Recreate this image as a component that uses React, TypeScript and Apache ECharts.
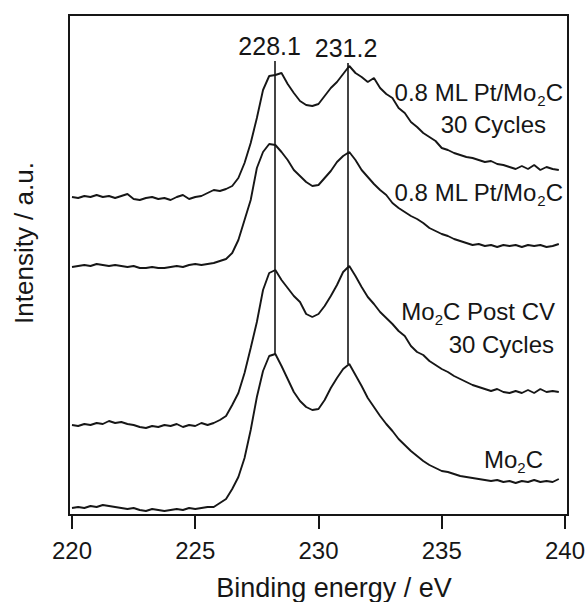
import React, { useEffect, useRef } from "react";
import * as echarts from "echarts";

// Binding energy grid (eV)
const energies = [
  220, 220.25, 220.5, 220.75, 221, 221.25, 221.5, 221.75, 222, 222.25,
  222.5, 222.75, 223, 223.25, 223.5, 223.75, 224, 224.25, 224.5, 224.75,
  225, 225.25, 225.5, 225.75, 226, 226.25, 226.5, 226.75, 227, 227.25,
  227.5, 227.75, 228, 228.25, 228.5, 228.75, 229, 229.25, 229.5, 229.75,
  230, 230.25, 230.5, 230.75, 231, 231.25, 231.5, 231.75, 232, 232.25,
  232.5, 232.75, 233, 233.25, 233.5, 233.75, 234, 234.25, 234.5, 234.75,
  235, 235.25, 235.5, 235.75, 236, 236.25, 236.5, 236.75, 237, 237.25,
  237.5, 237.75, 238, 238.25, 238.5, 238.75, 239, 239.25, 239.5, 239.75,
];

// Offset intensities (a.u.)
const ptMo2C30Cycles = [
  318, 317, 319, 318, 320, 318, 319, 317, 319, 321,
  316, 315, 317, 318, 316, 317, 315, 318, 320, 316,
  318, 319, 322, 325, 324, 326, 329, 337, 352, 372,
  397, 425, 439, 440, 442, 431, 422, 414, 410, 409,
  411, 419, 427, 433, 441, 449, 442, 438, 433, 437,
  427, 421, 417, 407, 402, 393, 388, 382, 378, 374,
  367, 365, 362, 360, 358, 357, 355, 353, 354, 351,
  350, 348, 346, 349, 346, 350, 345, 348, 346, 345,
];

const ptMo2C = [
  248, 249, 250, 249, 251, 250, 249, 250, 249, 248,
  249, 247, 247, 248, 247, 247, 248, 249, 248, 250,
  251, 250, 251, 252, 254, 256, 262, 275, 295, 315,
  347, 363, 371, 370, 363, 355, 345, 339, 333, 329,
  330, 337, 344, 353, 359, 363, 355, 345, 338, 331,
  325, 320, 312, 307, 303, 299, 296, 292, 287, 284,
  281, 279, 276, 274, 272, 270, 271, 269, 270, 268,
  270, 269, 270, 268, 270, 269, 270, 268, 269, 271,
];

const mo2CPostCV = [
  90, 89, 91, 90, 92, 91, 94, 92, 93, 91,
  90, 88, 87, 89, 88, 90, 89, 91, 88, 90,
  89, 92, 90, 92, 95, 99, 110, 122, 142, 167,
  193, 225, 242, 245, 235, 227, 219, 213, 201, 198,
  201, 209, 219, 230, 243, 249, 239, 228, 218, 211,
  203, 197, 191, 184, 179, 169, 163, 160, 154, 150,
  146, 143, 139, 136, 133, 130, 128, 126, 124, 126,
  123, 122, 124, 122, 125, 122, 126, 123, 124, 123,
];

const mo2C = [
  7, 8, 7, 9, 8, 10, 9, 8, 7, 6,
  7, 5, 4, 6, 5, 4, 5, 6, 5, 7,
  6, 7, 8, 8, 12, 16, 26, 38, 57, 85,
  118, 144, 159, 161, 149, 136, 123, 114, 108, 105,
  106, 115, 127, 137, 146, 151, 140, 129, 117, 108,
  99, 91, 84, 76, 70, 64, 59, 54, 50, 47,
  44, 43, 41, 39, 38, 37, 36, 35, 34, 35,
  33, 34, 32, 34, 33, 35, 33, 34, 33, 36,
];

// Peak marker lines
const peakLabels = ["228.1", "231.2"];
const peakPositions = [228.22, 231.2];
const peakTops = [454, 452];
const peakBottoms = [161, 151];

const xTicks = [220, 225, 230, 235, 240];

const INK = "#161616";
const FONT = "'Liberation Sans', Arial, Helvetica, sans-serif";
const MAIN_SIZE = 24;
const SUB_SIZE = 15;
const SUB_DROP = 8.5;

function pairs(ys: number[]) {
  return energies.map((e, i) => [e, ys[i]]);
}

type Part = { t: string; sub?: boolean };

function measure(ctx: CanvasRenderingContext2D | null, text: string, size: number) {
  if (!ctx) return text.length * size * 0.55;
  ctx.font = `${size}px ${FONT}`;
  return ctx.measureText(text).width;
}

function labelParts(ctx: CanvasRenderingContext2D | null, parts: Part[], rightX: number, y: number) {
  const widths = parts.map((p) => measure(ctx, p.t, p.sub ? SUB_SIZE : MAIN_SIZE));
  const total = widths.reduce((a, b) => a + b, 0);
  let x = rightX - total;
  return parts.map((p, i) => {
    const el = {
      type: "text",
      x,
      y: p.sub ? y + SUB_DROP : y,
      z: 20,
      style: {
        text: p.t,
        fontSize: p.sub ? SUB_SIZE : MAIN_SIZE,
        fontFamily: FONT,
        fill: INK,
        align: "left",
        verticalAlign: "middle",
      },
    };
    x += widths[i];
    return el;
  });
}

export default function App() {
  const ref = useRef<HTMLDivElement>(null);

  useEffect(() => {
    if (!ref.current) return;
    const chart = echarts.init(ref.current, undefined, { renderer: "svg" });
    const ctx = document.createElement("canvas").getContext("2d");

    const curveStyle = { color: INK, width: 1.9 };

    const option: any = {
      animation: false,
      backgroundColor: "#ffffff",
      grid: { left: 72, right: 22, top: 15, bottom: 87 },
      xAxis: {
        type: "value",
        min: xTicks[0],
        max: xTicks[xTicks.length - 1],
        interval: 5,
        axisLine: { show: false },
        axisTick: { show: true, inside: false, length: 14, lineStyle: { color: INK, width: 2 } },
        axisLabel: {
          margin: 23,
          fontSize: 24,
          color: INK,
          fontFamily: FONT,
          formatter: (v: number) => String(v),
        },
        splitLine: { show: false },
      },
      yAxis: {
        type: "value",
        min: 0,
        max: 500,
        show: false,
      },
      series: [
        {
          name: "0.8 ML Pt/Mo2C 30 Cycles",
          type: "line",
          data: pairs(ptMo2C30Cycles),
          showSymbol: false,
          lineStyle: curveStyle,
          itemStyle: { color: INK },
        },
        {
          name: "0.8 ML Pt/Mo2C",
          type: "line",
          data: pairs(ptMo2C),
          showSymbol: false,
          lineStyle: curveStyle,
          itemStyle: { color: INK },
        },
        {
          name: "Mo2C Post CV 30 Cycles",
          type: "line",
          data: pairs(mo2CPostCV),
          showSymbol: false,
          lineStyle: curveStyle,
          itemStyle: { color: INK },
        },
        {
          name: "Mo2C",
          type: "line",
          data: pairs(mo2C),
          showSymbol: false,
          lineStyle: curveStyle,
          itemStyle: { color: INK },
          markLine: {
            silent: true,
            symbol: ["none", "none"],
            lineStyle: { color: INK, width: 1.6, type: "solid" },
            label: {
              show: true,
              position: "end",
              fontSize: 25,
              color: INK,
              fontFamily: FONT,
              distance: 3,
            },
            data: peakPositions.map((p, i) => [
              { coord: [p, peakBottoms[i]] },
              {
                coord: [p, peakTops[i]],
                label: { formatter: peakLabels[i], offset: [i === 0 ? -5 : -2, 0] },
              },
            ]),
          },
        },
      ],
      graphic: [
        {
          type: "rect",
          z: 30,
          shape: { x: 69, y: 15, width: 499, height: 500 },
          style: { fill: "none", stroke: INK, lineWidth: 2 },
        },
        {
          type: "text",
          x: 334,
          y: 588,
          style: {
            text: "Binding energy / eV",
            fontSize: 27,
            fontFamily: FONT,
            fill: INK,
            align: "center",
            verticalAlign: "middle",
          },
        },
        {
          type: "text",
          x: 24,
          y: 243,
          rotation: Math.PI / 2,
          style: {
            text: "Intensity / a.u.",
            fontSize: 26,
            fontFamily: FONT,
            fill: INK,
            align: "center",
            verticalAlign: "middle",
          },
        },
        ...labelParts(ctx, [{ t: "0.8 ML Pt/Mo" }, { t: "2", sub: true }, { t: "C" }], 563, 92),
        ...labelParts(ctx, [{ t: "30 Cycles" }], 546, 124),
        ...labelParts(ctx, [{ t: "0.8 ML Pt/Mo" }, { t: "2", sub: true }, { t: "C" }], 563, 192),
        ...labelParts(ctx, [{ t: "Mo" }, { t: "2", sub: true }, { t: "C Post CV" }], 555, 311),
        ...labelParts(ctx, [{ t: "30 Cycles" }], 554, 344),
        ...labelParts(ctx, [{ t: "Mo" }, { t: "2", sub: true }, { t: "C" }], 543, 459),
      ],
    };

    chart.setOption(option);
    return () => chart.dispose();
  }, []);

  return (
    <div
      ref={ref}
      style={{ position: "fixed", left: 0, top: 0, width: 588, height: 602, background: "#fff" }}
    />
  );
}
